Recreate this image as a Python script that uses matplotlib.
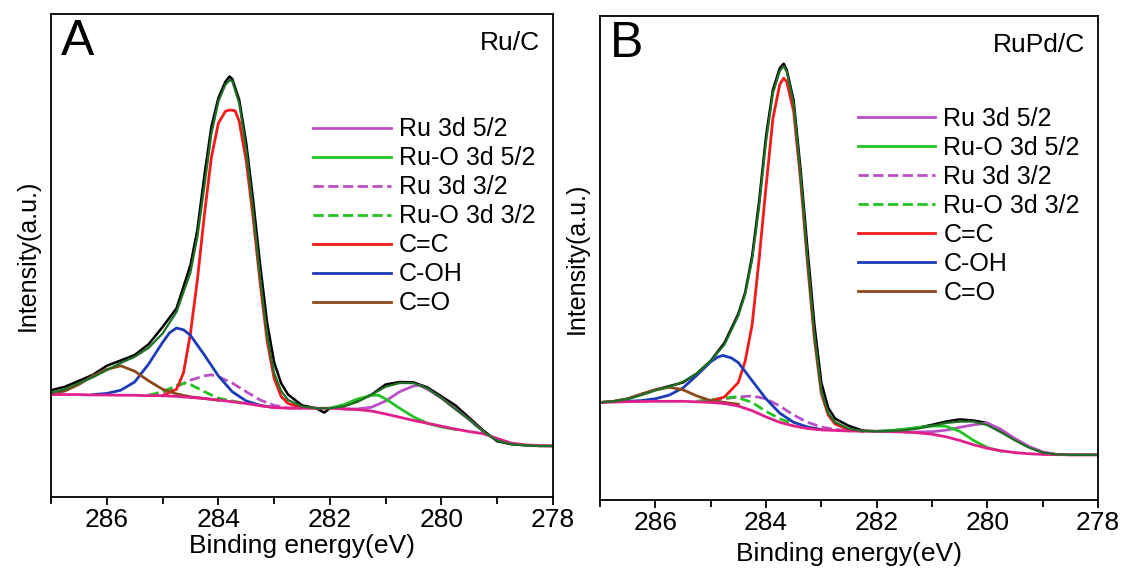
# XPS C 1s / Ru 3d deconvolution for Ru/C (A) and RuPd/C (B)

import matplotlib as mpl
import matplotlib.pyplot as plt
from matplotlib.lines import Line2D
from matplotlib.ticker import MultipleLocator

mpl.rcParams.update({
    "font.family": ["Liberation Sans", "DejaVu Sans"],
    "axes.linewidth": 1.3,
    "xtick.direction": "out",
    "xtick.major.width": 1.3,
    "xtick.minor.width": 1.3,
    "xtick.major.size": 6,
    "xtick.minor.size": 5,
})

# ---------------- panel A : Ru/C ----------------
e_grid_a = [287, 286.75, 286.5, 286.25, 286, 285.75, 285.5, 285.25, 285, 284.75,
            284.5, 284.25, 284, 283.75, 283.5, 283.25, 283, 282.75, 282.5, 282.25,
            282, 281.75, 281.5, 281.25, 281, 280.75, 280.5, 280.25, 280, 279.75,
            279.5, 279.25, 279, 278.75, 278.5, 278.25, 278]
bg_a = [101.8, 101.8, 101.8, 101.4, 101.4, 101.1, 101.1, 100.7, 100.7, 100.0,
        98.9, 97.9, 96.4, 94.6, 92.9, 90.7, 88.9, 88.2, 88.2, 88.2,
        88.2, 87.5, 86.8, 85.4, 82.5, 79.3, 76.1, 73.2, 70.4, 67.5,
        65.0, 62.9, 58.2, 53.6, 51.8, 51.1, 50.7]

e_raw_a = [287, 286.75, 286.5, 286.25, 286, 285.75, 285.5, 285.25, 285, 284.75,
           284.5, 284.375, 284.25, 284.125, 284, 283.875, 283.8, 283.75, 283.625, 283.5,
           283.375, 283.25, 283.125, 283, 282.875, 282.75, 282.5, 282.25, 282.1, 282,
           281.75, 281.5, 281.25, 281, 280.75, 280.5, 280.25, 280, 279.75, 279.5,
           279.25, 279, 278.75, 278.5, 278.25, 278]
raw_a = [106.1, 109.6, 115.4, 121.4, 130.4, 135.7, 141.1, 151.8, 168.9, 187.5,
         230.4, 266.0, 319.6, 367.9, 396.4, 412.5, 417.9, 415.4, 394.6, 351.8,
         294.6, 230.4, 173.2, 133.9, 113.2, 101.8, 91.1, 88.2, 83.9, 88.2,
         90.4, 95.4, 101.8, 111.8, 114.3, 113.9, 108.9, 100.0, 91.1, 78.6,
         66.1, 55.4, 52.5, 51.4, 50.7, 50.7]

e_env_a = [287, 286.75, 286.5, 286.25, 286, 285.75, 285.5, 285.25, 285, 284.75,
           284.5, 284.375, 284.25, 284.125, 284, 283.875, 283.8, 283.75, 283.625, 283.5,
           283.375, 283.25, 283.125, 283, 282.875, 282.75, 282.5, 282.25, 282,
           281.75, 281.5, 281.25, 281, 280.75, 280.5, 280.25, 280, 279.75, 279.5,
           279.25, 279, 278.75, 278.5, 278.25, 278]
env_a = [103.6, 107.1, 113.2, 118.9, 126.1, 133.2, 139.3, 148.2, 162.5, 183.9,
         223.2, 258.9, 308.9, 360.7, 392.9, 409.6, 414.3, 413.2, 391.1, 344.6,
         283.9, 217.9, 160.7, 123.2, 105.4, 96.4, 90.0, 88.2, 88.2,
         90.0, 94.6, 101.8, 109.6, 113.2, 113.2, 107.9, 98.2, 87.5, 76.8,
         65.0, 56.1, 52.5, 51.4, 50.7, 50.7]

e_cc_a = [285, 284.75, 284.625, 284.5, 284.375, 284.25, 284.125, 284, 283.875, 283.8,
          283.7, 283.625, 283.5, 283.375, 283.25, 283.125, 283, 282.875, 282.75, 282.5, 282.25]
cc_a = [100.7, 107.1, 123.2, 162.5, 216.1, 280.4, 337.5, 371.4, 383.2, 384.6,
        383.9, 373.2, 333.9, 276.8, 212.5, 155.4, 117.9, 100.0, 92.9, 88.9, 88.2]

e_coh_a = [286.25, 286, 285.75, 285.5, 285.25, 285, 284.875, 284.75, 284.625, 284.5,
           284.25, 284, 283.75, 283.5, 283.25, 283]
coh_a = [101.8, 102.9, 106.1, 114.3, 132.1, 153.6, 163.2, 167.9, 166.1, 160.7,
         141.1, 120.4, 104.6, 95.4, 91.1, 88.9]

e_co_a = [287, 286.75, 286.5, 286.25, 286, 285.75, 285.5, 285.25, 285, 284.75, 284.5, 284.25, 284]
co_a = [101.8, 105.4, 111.8, 120.4, 126.8, 130.4, 125.0, 115.4, 107.1, 102.5, 99.6, 97.9, 96.1]

e_ru32_a = [285.25, 285, 284.75, 284.5, 284.25, 284.125, 284, 283.75, 283.5, 283.25, 283, 282.75, 282.5]
ru32_a = [101.1, 103.6, 109.6, 116.1, 120.4, 121.4, 119.6, 113.2, 104.6, 96.4, 91.1, 88.6, 88.2]

e_ruo32_a = [285.25, 285, 284.75, 284.6, 284.5, 284.25, 284, 283.75, 283.5]
ruo32_a = [101.1, 104.6, 110.7, 113.2, 111.8, 104.6, 98.2, 95.4, 92.9]

e_ru52_a = [281.75, 281.5, 281.25, 281, 280.75, 280.5, 280.4, 280.25, 280, 279.75, 279.5, 279.25]
ru52_a = [87.5, 87.5, 89.3, 95.4, 104.6, 110.4, 111.1, 107.1, 98.2, 87.5, 76.8, 65.0]

e_ruo52_a = [282, 281.75, 281.5, 281.25, 281.125, 281, 280.75, 280.5, 280.25, 280, 279.75]
ruo52_a = [88.2, 91.8, 97.5, 101.1, 101.1, 97.5, 88.2, 79.6, 73.2, 69.6, 67.1]

# ---------------- panel B : RuPd/C ----------------
e_bg_b = [287, 286.5, 286, 285.5, 285, 284.75, 284.5, 284.25, 284, 283.75,
          283.5, 283.25, 283, 282.5, 282, 281.5, 281.25, 281, 280.75, 280.5,
          280.25, 280, 279.75, 279.5, 279.25, 279, 278.5, 278]
bg_b = [96.6, 97.3, 97.7, 97.7, 96.6, 95.5, 93.0, 88.4, 82.3, 76.9,
        73.3, 70.8, 69.4, 68.3, 68.0, 67.3, 66.5, 65.1, 62.6, 59.0,
        54.7, 51.2, 48.7, 46.9, 45.8, 45.1, 44.7, 44.7]

e_raw_b = [287, 286.75, 286.5, 286.25, 286, 285.75, 285.5, 285.25, 285, 284.75,
           284.5, 284.375, 284.25, 284.125, 284, 283.875, 283.75, 283.68, 283.625, 283.5,
           283.375, 283.25, 283.125, 283, 282.875, 282.75, 282.5, 282.25, 282, 281.75,
           281.5, 281.25, 281, 280.75, 280.5, 280.25, 280, 279.75, 279.5, 279.25,
           279, 278.75, 278.5, 278]
raw_b = [96.6, 97.7, 100.2, 104.8, 109.1, 112.7, 116.3, 125.2, 137.7, 155.6,
         184.3, 205.7, 241.5, 295.2, 359.6, 406.1, 427.5, 431.8, 425.8, 395.3,
         327.4, 248.7, 173.5, 116.3, 91.2, 80.5, 73.3, 68.7, 68.0, 68.7,
         69.8, 71.6, 74.4, 77.6, 79.8, 78.7, 76.2, 68.0, 59.7, 52.6,
         47.2, 45.1, 44.7, 44.7]

env_b = [96.6, 97.7, 99.8, 103.8, 108.4, 112.0, 117.0, 125.2, 137.7, 153.8,
         182.5, 203.9, 237.9, 289.8, 354.2, 402.5, 424.7, 429.3, 424.0, 391.8,
         320.2, 237.9, 162.8, 107.3, 85.9, 76.9, 70.5, 68.3, 68.0, 68.3,
         69.1, 70.8, 73.3, 76.2, 77.6, 77.6, 74.1, 66.9, 59.0, 51.9,
         46.9, 45.1, 44.7, 44.7]

e_cc_b = [285, 284.75, 284.5, 284.375, 284.25, 284.125, 284, 283.875, 283.75, 283.68,
          283.625, 283.5, 283.375, 283.25, 283.125, 283, 282.875, 282.75, 282.5, 282.25]
cc_b = [97.7, 102.0, 116.3, 137.7, 173.5, 237.9, 309.5, 377.5, 411.4, 417.5,
        414.0, 384.6, 316.6, 234.3, 159.2, 105.5, 84.1, 75.1, 69.8, 68.0]

e_coh_b = [286.5, 286.25, 286, 285.75, 285.5, 285.25, 285, 284.875, 284.78, 284.625,
           284.5, 284.25, 284, 283.75, 283.5, 283.25, 283]
coh_b = [97.7, 98.4, 100.2, 103.8, 110.9, 123.4, 136.7, 141.3, 143.1, 140.6,
         136.0, 118.1, 100.2, 85.9, 76.9, 72.3, 69.8]

e_co_b = [287, 286.75, 286.5, 286.25, 286, 285.75, 285.5, 285.25, 285, 284.75, 284.5]
co_b = [96.6, 97.7, 100.2, 104.8, 109.1, 111.6, 109.1, 103.0, 98.4, 96.6, 94.8]

e_ru32_b = [285.25, 285, 284.75, 284.5, 284.25, 284, 283.75, 283.5, 283.25, 283, 282.75, 282.5]
ru32_b = [97.7, 98.4, 100.2, 102.0, 103.0, 100.2, 93.0, 84.1, 76.9, 72.3, 69.8, 68.7]

e_ruo32_b = [285.25, 285, 284.75, 284.55, 284.25, 284, 283.75, 283.5]
ruo32_b = [97.7, 99.1, 100.9, 102.0, 96.6, 87.7, 80.5, 75.1]

e_ru52_b = [281.5, 281.25, 281, 280.75, 280.5, 280.25, 280, 279.75, 279.5, 279.25, 279, 278.75]
ru52_b = [67.3, 67.3, 67.6, 69.1, 71.9, 74.4, 76.2, 69.8, 60.8, 53.0, 47.6, 45.1]

e_ruo52_b = [282, 281.75, 281.5, 281.25, 281, 280.75, 280.5, 280.25, 280, 279.75]
ruo52_b = [68.0, 68.7, 70.1, 71.9, 73.3, 73.0, 68.0, 59.0, 51.9, 48.3]

labels = ["Ru 3d 5/2", "Ru-O 3d 5/2", "Ru 3d 3/2", "Ru-O 3d 3/2", "C=C", "C-OH", "C=O"]
colors = ["#BA50C4", "#22C322", "#BA50C4", "#22C322", "#F21A1A", "#1C3CB8", "#8A4A1C"]
styles = ["-", "-", "--", "--", "-", "-", "-"]
BG_COLOR = "#E2208C"
ENV_COLOR = "#1F7025"

panels = [
    dict(ax_rect=[0.0455, 0.125, 0.4478, 0.8504], ylim=480, letter="A", sample="Ru/C",
         raw=(e_raw_a, raw_a), env=(e_env_a, env_a), bg=(e_grid_a, bg_a),
         comps=[(e_ru52_a, ru52_a), (e_ruo52_a, ruo52_a), (e_ru32_a, ru32_a),
                (e_ruo32_a, ruo32_a), (e_cc_a, cc_a), (e_coh_a, coh_a), (e_co_a, co_a)],
         leg_anchor=(0.522, 0.786), xpad=1),
    dict(ax_rect=[0.5352, 0.1197, 0.4443, 0.8521], ylim=479, letter="B", sample="RuPd/C",
         raw=(e_raw_b, raw_b), env=(e_raw_b, env_b), bg=(e_bg_b, bg_b),
         comps=[(e_ru52_b, ru52_b), (e_ruo52_b, ruo52_b), (e_ru32_b, ru32_b),
                (e_ruo32_b, ruo32_b), (e_cc_b, cc_b), (e_coh_b, coh_b), (e_co_b, co_b)],
         leg_anchor=(0.518, 0.812), xpad=5),
]

fig = plt.figure(figsize=(11.21, 5.68), dpi=100)

for p in panels:
    ax = fig.add_axes(p["ax_rect"])

    ax.plot(*p["raw"], color="black", linewidth=1.8)
    for (x, y), c, ls in zip(p["comps"], colors, styles):
        ax.plot(x, y, color=c, linestyle=ls, linewidth=2.0)
    ax.plot(*p["bg"], color=BG_COLOR, linewidth=2.0)
    ax.plot(*p["env"], color=ENV_COLOR, linewidth=1.6)

    ax.set_xlim(287, 278)
    ax.set_ylim(0, p["ylim"])
    ax.xaxis.set_major_locator(MultipleLocator(2))
    ax.xaxis.set_minor_locator(MultipleLocator(1))
    ax.set_yticks([])
    ax.tick_params(axis="x", labelsize=19, pad=2)

    ax.set_xlabel("Binding energy(eV)", fontsize=19, labelpad=p["xpad"])
    ax.set_ylabel("Intensity(a.u.)", fontsize=18, labelpad=8)

    ax.text(0.02, 0.99, p["letter"], transform=ax.transAxes, fontsize=36,
            ha="left", va="top")
    ax.text(0.975, 0.965, p["sample"], transform=ax.transAxes, fontsize=19,
            ha="right", va="top")

    handles = [Line2D([], [], color=c, linestyle=ls, linewidth=2.0)
               for c, ls in zip(colors, styles)]
    ax.legend(handles, labels, loc="upper left", bbox_to_anchor=p["leg_anchor"],
              frameon=False, fontsize=18, handlelength=3.1, handletextpad=0.32,
              labelspacing=0.2, borderpad=0, borderaxespad=0)

fig.savefig("out.png", dpi=100)
